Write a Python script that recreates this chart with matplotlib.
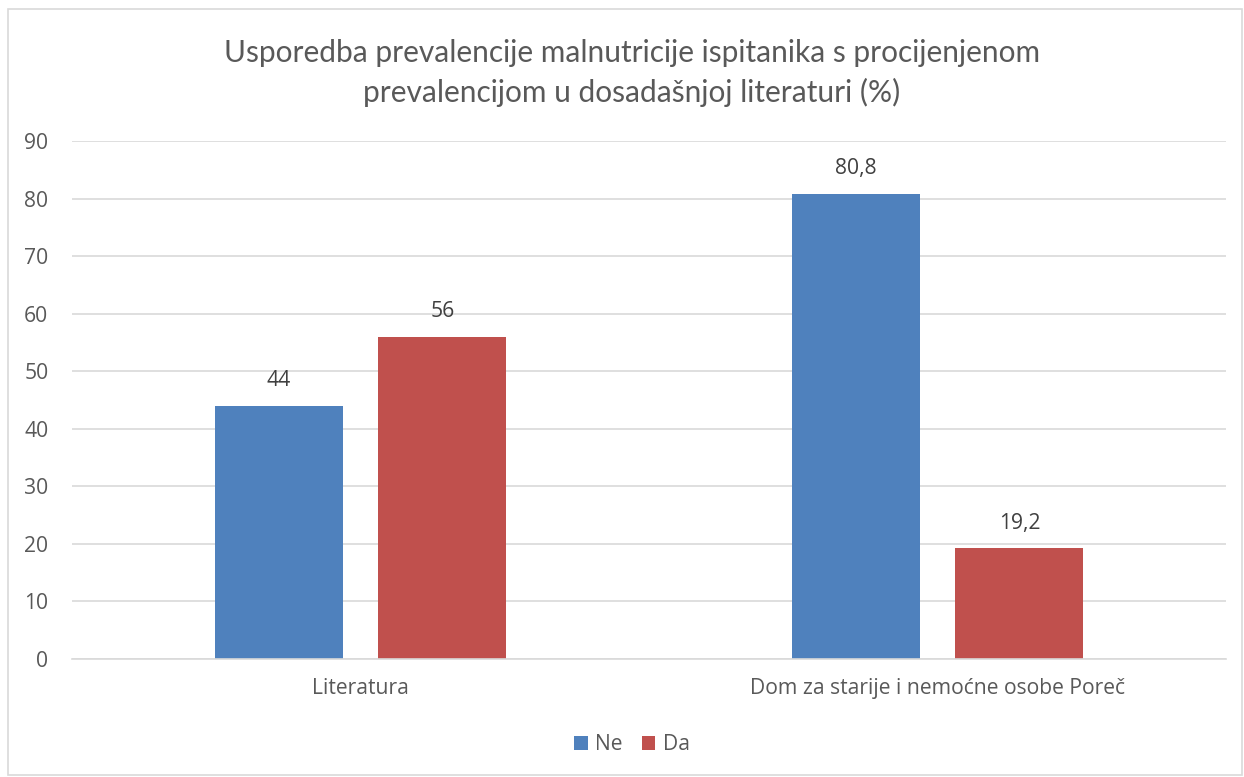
import matplotlib
matplotlib.use("Agg")
import matplotlib.pyplot as plt
from matplotlib.patches import Rectangle
import numpy as np

categories = ["Literatura", "Dom za starije i nemoćne osobe Poreč"]
series_names = ["Ne", "Da"]
ne_values = [44, 80.8]
da_values = [56, 19.2]
value_labels_ne = ["44", "80,8"]
value_labels_da = ["56", "19,2"]
yticks = [0, 10, 20, 30, 40, 50, 60, 70, 80, 90]
title = "Usporedba prevalencije malnutricije ispitanika s procijenjenom\nprevalencijom u dosadašnjoj literaturi (%)"

blue = "#4F81BD"
red = "#C0504D"
txt = "#595959"
grid = "#D9D9D9"
tfont = ["Lato", "DejaVu Sans"]
font = ["Open Sans", "DejaVu Sans"]
fs = 15.2

fig = plt.figure(figsize=(12.44, 7.77), dpi=100)
fig.patch.set_facecolor("white")
fig.add_artist(Rectangle((8/1244, 0.002), 1 - 8/1244 - 0.002, 1 - 9/777 - 0.002,
                         transform=fig.transFigure, fill=False, edgecolor="#D9D9D9", linewidth=1.2))

ax = fig.add_axes([72/1244, 1 - 659/777, (1226 - 72)/1244, (659 - 141)/777])
x = np.arange(len(categories))
w = 0.222
off = 0.142
b1 = ax.bar(x - off, ne_values, w, color=blue, label=series_names[0])
b2 = ax.bar(x + off, da_values, w, color=red, label=series_names[1])

for rects, labs in ((b1, value_labels_ne), (b2, value_labels_da)):
    for r, l in zip(rects, labs):
        ax.annotate(l, (r.get_x() + r.get_width()/2, r.get_height()), xytext=(0, 18),
                    textcoords="offset points", ha="center", va="center",
                    fontsize=fs, color="#404040", family=font)

ax.set_xlim(-0.5, 1.5)
ax.set_ylim(0, 90)
ax.set_yticks(yticks)
ax.set_yticklabels([str(t) for t in yticks], fontsize=fs, color=txt, family=font)
ax.set_xticks(x)
ax.set_xticklabels(categories, fontsize=fs, color=txt, family=font)
ax.tick_params(axis="both", length=0)
ax.tick_params(axis="y", pad=17)
ax.tick_params(axis="x", pad=14)
ax.grid(axis="y", color=grid, linewidth=1.2)
ax.set_axisbelow(True)
for s in ("top", "right", "left"):
    ax.spines[s].set_visible(False)
ax.spines["bottom"].set_color(grid)
ax.spines["bottom"].set_linewidth(1.2)

fig.text(0.508, 1 - 73/777, title, ha="center", va="center", fontsize=21.5,
         color=txt, family=tfont, linespacing=1.42)

leg = fig.legend(handles=[b1, b2], labels=series_names, loc="center",
                 bbox_to_anchor=(0.508, 1 - 745/777), ncol=2, frameon=False,
                 prop={"family": font, "size": fs}, handlelength=0.65, handleheight=0.65,
                 columnspacing=0.9, handletextpad=0.35)
for t in leg.get_texts():
    t.set_color(txt)

fig.savefig("out.png", dpi=100, facecolor="white")
